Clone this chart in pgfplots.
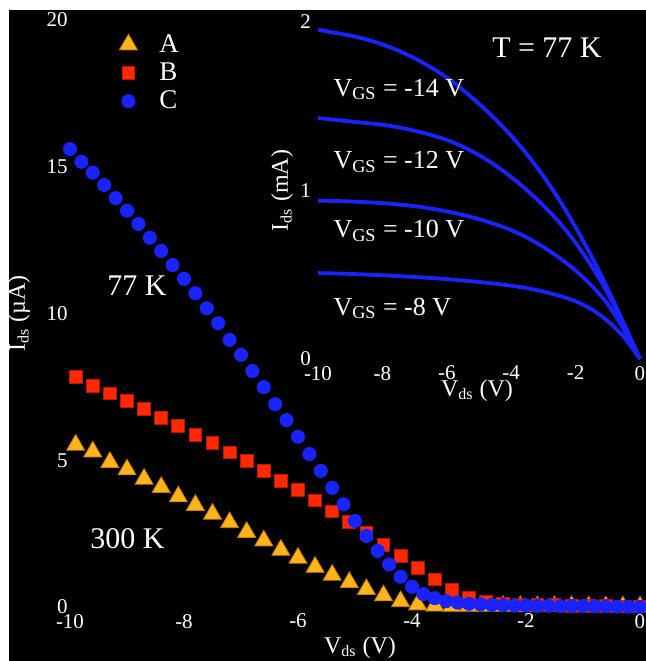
\documentclass[border=0pt]{standalone}
\usepackage{fontspec}
\setmainfont{Liberation Serif}
\usepackage{pgfplots}
\pgfplotsset{compat=1.18}

\definecolor{cA}{RGB}{255,180,30}
\definecolor{cAe}{RGB}{205,125,0}
\definecolor{cB}{RGB}{255,40,0}
\definecolor{cBe}{RGB}{190,20,0}
\definecolor{cC}{RGB}{25,35,255}

\newcommand{\tfont}{\fontsize{10.5}{11}\selectfont}

\begin{document}
\begin{tikzpicture}
% frame: white margin, black field
\path[use as bounding box] (-35pt,-27pt) rectangle (288pt,303.5pt);
\fill[white] (-35pt,-27pt) rectangle (288pt,303.5pt);
\fill[black] (-30.5pt,-27pt) rectangle (288pt,298.5pt);

\begin{axis}[scale only axis, width=285pt, height=293.5pt,
  xmin=-10, xmax=0, ymin=0, ymax=20,
  xtick={-10,-8,...,0}, ytick={0,5,...,20},
  axis line style={draw=none}, major tick length=0pt,
  ticklabel style={font=\tfont, text=white},
  /pgf/number format/assume math mode=true,
  yticklabel style={inner sep=1pt},
  xlabel={V\textsubscript{ds} (V)}, ylabel={I\textsubscript{ds} (µA)},
  label style={font=\fontsize{12}{13}\selectfont, text=white},
  xlabel style={at={(axis description cs:0.5,0)}, anchor=base, yshift=-23pt, xshift=2.5pt},
  ylabel style={at={(axis description cs:0,0.5)}, anchor=base, yshift=22.5pt},
  legend style={draw=none, fill=none, text=white, font=\fontsize{13.5}{14}\selectfont,
    at={(0.0755,0.99)}, anchor=north west, row sep=-0.25pt, column sep=9pt,
    nodes={inner sep=2pt}},
  legend cell align=left,
  clip=false]

\addplot[only marks, mark=triangle*, mark size=5.2pt, draw=cAe, fill=cA]
  coordinates {(-9.9,5.52)(-9.6,5.29)(-9.3,4.93)(-9.0,4.68)(-8.7,4.36)(-8.4,4.08)
  (-8.1,3.76)(-7.8,3.47)(-7.5,3.17)(-7.2,2.88)(-6.9,2.55)(-6.6,2.26)(-6.3,1.94)
  (-6.0,1.67)(-5.7,1.36)(-5.4,1.09)(-5.1,0.84)(-4.8,0.60)(-4.5,0.39)(-4.2,0.19)
  (-3.9,0.08)(-3.6,0.04)(-3.3,0.03)(-3.0,0.03)(-2.7,0.03)(-2.4,0.03)(-2.1,0.02)
  (-1.8,0.02)(-1.5,0.02)(-1.2,0.02)(-0.9,0.01)(-0.6,0.01)(-0.3,0.01)(0,0.01)};
\addlegendentry{A}

\addplot[only marks, mark=square*, mark size=3.2pt, draw=cBe, fill=cB]
  coordinates {(-9.9,7.83)(-9.6,7.54)(-9.3,7.28)(-9.0,7.03)(-8.7,6.74)(-8.4,6.43)
  (-8.1,6.17)(-7.8,5.86)(-7.5,5.58)(-7.2,5.27)(-6.9,4.97)(-6.6,4.63)(-6.3,4.29)
  (-6.0,3.99)(-5.7,3.63)(-5.4,3.26)(-5.1,2.91)(-4.8,2.53)(-4.5,2.11)(-4.2,1.75)
  (-3.9,1.32)(-3.6,0.94)(-3.3,0.58)(-3.0,0.32)(-2.7,0.18)(-2.4,0.12)(-2.1,0.09)
  (-1.8,0.07)(-1.5,0.06)(-1.2,0.05)(-0.9,0.04)(-0.6,0.03)(-0.3,0.02)(0,0.02)};
\addlegendentry{B}

\addplot[only marks, mark=*, mark size=3.3pt, draw=cC, fill=cC]
  coordinates {(-10,15.60)(-9.8,15.17)(-9.6,14.80)(-9.4,14.38)(-9.2,13.93)
  (-9.0,13.50)(-8.8,13.05)(-8.6,12.58)(-8.4,12.13)(-8.2,11.65)(-8.0,11.18)
  (-7.8,10.69)(-7.6,10.18)(-7.4,9.67)(-7.2,9.10)(-7.0,8.59)(-6.8,8.04)(-6.6,7.49)
  (-6.4,6.91)(-6.2,6.37)(-6.0,5.80)(-5.8,5.21)(-5.6,4.64)(-5.4,4.06)(-5.2,3.50)
  (-5.0,2.93)(-4.8,2.42)(-4.6,1.91)(-4.4,1.45)(-4.2,1.03)(-4.0,0.69)(-3.8,0.44)
  (-3.6,0.30)(-3.4,0.20)(-3.2,0.15)(-3.0,0.11)(-2.8,0.09)(-2.6,0.07)(-2.4,0.06)
  (-2.2,0.05)(-2.0,0.05)(-1.8,0.04)(-1.6,0.04)(-1.4,0.03)(-1.2,0.03)(-1.0,0.03)
  (-0.8,0.02)(-0.6,0.02)(-0.4,0.01)(-0.2,0.01)(0,0.0)};
\addlegendentry{C}

\node[anchor=base west, inner sep=0pt, text=white, font=\fontsize{15}{16}\selectfont] at (axis cs:-9.35,10.63) {77 K};
\node[anchor=base west, inner sep=0pt, text=white, font=\fontsize{15}{16}\selectfont] at (axis cs:-9.65,2.01) {300 K};
\end{axis}

% inset
\begin{axis}[at={(124pt,124pt)}, anchor=south west,
  scale only axis, width=161pt, height=168.5pt,
  xmin=-10, xmax=0, ymin=0, ymax=2,
  xtick={-10,-8,...,0}, ytick={0,1,2},
  axis line style={draw=none}, major tick length=0pt,
  ticklabel style={font=\tfont, text=white},
  /pgf/number format/assume math mode=true,
  xlabel={V\textsubscript{ds} (V)}, ylabel={I\textsubscript{ds} (mA)},
  label style={font=\fontsize{12}{13}\selectfont, text=white},
  xlabel style={at={(axis description cs:0.5,0)}, anchor=base, yshift=-18.5pt, xshift=-1pt},
  ylabel style={at={(axis description cs:0,0.5)}, anchor=base, yshift=15pt},
  clip=false]

\addplot[cC, line width=1.9pt, smooth] coordinates {(-10,1.955)(-9.5,1.937)(-9,1.92)
  (-8.5,1.897)(-8,1.867)(-7.5,1.83)(-7,1.785)(-6.5,1.732)(-6,1.67)(-5.5,1.597)
  (-5,1.515)(-4.5,1.425)(-4,1.325)(-3.5,1.212)(-3,1.085)(-2.5,0.942)(-2,0.782)
  (-1.5,0.607)(-1,0.415)(-0.5,0.21)(0,0)};
\addplot[cC, line width=1.9pt, smooth] coordinates {(-10,1.43)(-9,1.41)(-8,1.39)
  (-7.5,1.375)(-7,1.355)(-6.5,1.33)(-6,1.30)(-5.5,1.26)(-5,1.21)(-4.5,1.15)(-4,1.08)
  (-3.5,1.00)(-3,0.91)(-2.5,0.81)(-2,0.69)(-1.5,0.55)(-1,0.39)(-0.5,0.20)(0,0)};
\addplot[cC, line width=1.9pt, smooth] coordinates {(-10,0.94)(-9,0.935)(-8,0.925)
  (-7.5,0.917)(-7,0.907)(-6.5,0.893)(-6,0.876)(-5.5,0.855)(-5,0.83)(-4.5,0.80)
  (-4,0.765)(-3.5,0.72)(-3,0.665)(-2.5,0.60)(-2,0.525)(-1.5,0.435)(-1,0.325)(-0.5,0.175)(0,0)};
\addplot[cC, line width=1.9pt, smooth] coordinates {(-10,0.51)(-9,0.505)(-8,0.497)
  (-7,0.487)(-6.5,0.481)(-6,0.474)(-5.5,0.466)(-5,0.457)(-4.5,0.447)(-4,0.435)
  (-3.5,0.42)(-3,0.40)(-2.5,0.375)(-2,0.343)(-1.5,0.295)(-1,0.225)(-0.5,0.13)(0,0)};

\node[anchor=base west, inner sep=0pt, text=white, font=\fontsize{15}{16}\selectfont] at (axis cs:-4.6,1.79) {T = 77 K};
\node[anchor=base west, inner sep=0pt, text=white, font=\fontsize{13}{14}\selectfont] at (axis cs:-9.53,1.56) {V\textsubscript{GS} = -14 V};
\node[anchor=base west, inner sep=0pt, text=white, font=\fontsize{13}{14}\selectfont] at (axis cs:-9.53,1.13) {V\textsubscript{GS} = -12 V};
\node[anchor=base west, inner sep=0pt, text=white, font=\fontsize{13}{14}\selectfont] at (axis cs:-9.53,0.72) {V\textsubscript{GS} = -10 V};
\node[anchor=base west, inner sep=0pt, text=white, font=\fontsize{13}{14}\selectfont] at (axis cs:-9.53,0.26) {V\textsubscript{GS} = -8 V};
\end{axis}
\end{tikzpicture}
\end{document}
